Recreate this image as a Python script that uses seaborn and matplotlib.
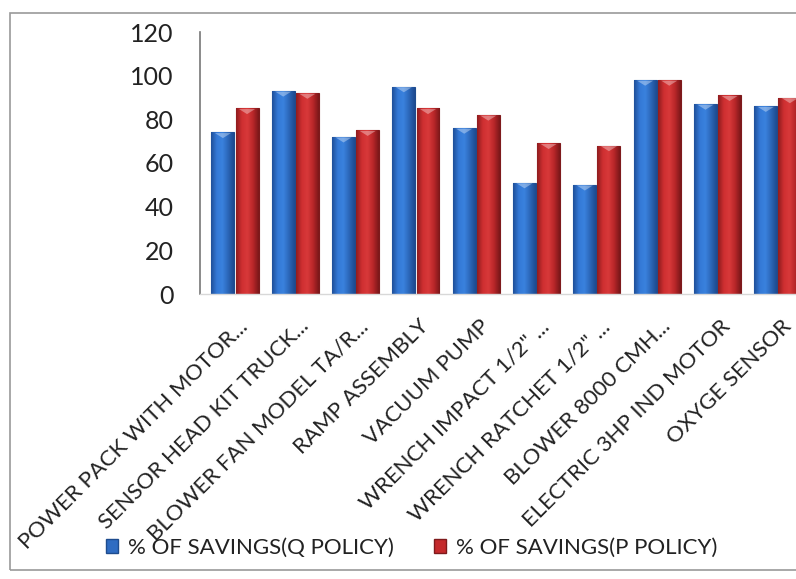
import matplotlib
matplotlib.use("Agg")
import matplotlib.pyplot as plt
from matplotlib.patches import Rectangle, Patch
from matplotlib.colors import LinearSegmentedColormap
from matplotlib.transforms import ScaledTranslation
import numpy as np
import pandas as pd
import seaborn as sns

items = [
    "POWER PACK WITH MOTOR...",
    "SENSOR HEAD KIT TRUCK...",
    "BLOWER FAN MODEL TA/R...",
    "RAMP ASSEMBLY",
    "VACUUM PUMP",
    "WRENCH IMPACT 1/2\" ...",
    "WRENCH RATCHET 1/2\" ...",
    "BLOWER 8000 CMH...",
    "ELECTRIC 3HP IND MOTOR",
    "OXYGE SENSOR",
]
q_policy = [74, 93, 72, 95, 76, 51, 50, 98, 87, 86]
p_policy = [85, 92, 75, 85, 82, 69, 68, 98, 91, 90]
series = ["% OF SAVINGS(Q POLICY)", "% OF SAVINGS(P POLICY)"]
y_ticks = [0, 20, 40, 60, 80, 100, 120]

df = pd.DataFrame({
    "item": items * 2,
    "policy": [series[0]] * len(items) + [series[1]] * len(items),
    "savings": q_policy + p_policy,
})

sns.set_theme(style="white")
plt.rcParams["font.family"] = ["Lato", "DejaVu Sans"]

colors = {series[0]: "#2F6CC2", series[1]: "#C42A2C"}
edges = {series[0]: "#1E4C8E", series[1]: "#7E1A1C"}
shades = {
    series[0]: ["#1F4F99", "#3479D6", "#3A82DE", "#2B66B8", "#1D4A8F"],
    series[1]: ["#8E1C1E", "#CF2F31", "#D8393A", "#B82629", "#7A1719"],
}

fig = plt.figure(figsize=(7.96, 5.79), dpi=100)
ax = fig.add_axes([200 / 796, (579 - 294) / 579, 608 / 796, 262 / 579])

sns.barplot(data=df, x="item", y="savings", hue="policy", order=items,
            hue_order=series, palette=colors, width=0.8, gap=0.05,
            saturation=1, ax=ax, legend=False)

ax.set_xlim(-0.58, 9.5)
ax.set_ylim(0, 120)

# cylinder-like horizontal shading inside each bar
grad = np.linspace(0, 1, 64).reshape(1, -1)
for cont, name in zip(ax.containers, series):
    cmap = LinearSegmentedColormap.from_list(name, shades[name])
    for bar in cont:
        bar.set_edgecolor(edges[name])
        bar.set_linewidth(0.8)
        x0, y0 = bar.get_x(), bar.get_y()
        w, h = bar.get_width(), bar.get_height()
        im = ax.imshow(grad, cmap=cmap, aspect="auto", interpolation="bicubic",
                       extent=(x0, x0 + w, y0, y0 + h), zorder=bar.get_zorder() + 0.1)
        im.set_clip_path(bar)
        # light cap at the top of the column
        ax.fill([x0 + w * 0.15, x0 + w * 0.85, x0 + w * 0.5],
                [y0 + h - 0.3, y0 + h - 0.3, y0 + h - 2.6],
                color="white", alpha=0.35, lw=0, zorder=bar.get_zorder() + 0.2)

ax.set_xlim(-0.58, 9.5)
ax.set_ylim(0, 120)
ax.set_yticks(y_ticks)
ax.set_yticklabels([str(v) for v in y_ticks], fontsize=18, color="#222222")
ax.tick_params(axis="y", length=0, pad=19)
ax.tick_params(axis="x", length=0, pad=16)
ax.set_xlabel("")
ax.set_ylabel("")
ax.set_xticks(range(len(items)))
ax.set_xticklabels(items, rotation=45, ha="right", rotation_mode="anchor",
                   fontsize=16, color="#222222")
shift = ScaledTranslation(3 / 100, 0, fig.dpi_scale_trans)
for lbl in ax.get_xticklabels():
    lbl.set_transform(lbl.get_transform() + shift)

for side in ["top", "right"]:
    ax.spines[side].set_visible(False)
ax.spines["left"].set_color("#777777")
ax.spines["left"].set_linewidth(1.2)
ax.spines["bottom"].set_color("#d8d8d8")
ax.spines["bottom"].set_linewidth(1.0)

handles = [Patch(facecolor=colors[s], edgecolor=edges[s], label=s) for s in series]
fig.legend(handles=handles, loc="center", bbox_to_anchor=(412 / 796, (579 - 548) / 579),
           ncol=2, frameon=False, fontsize=16, handlelength=0.55, handleheight=0.55,
           handletextpad=0.45, columnspacing=1.8,
           labelcolor="#222222")

# chart frame
fig.patches.append(Rectangle((10 / 796, (579 - 570) / 579), 800 / 796, 557 / 579,
                             transform=fig.transFigure, fill=False,
                             edgecolor="#9a9a9a", linewidth=1.2))

fig.savefig("out.png", dpi=100, facecolor="white")
